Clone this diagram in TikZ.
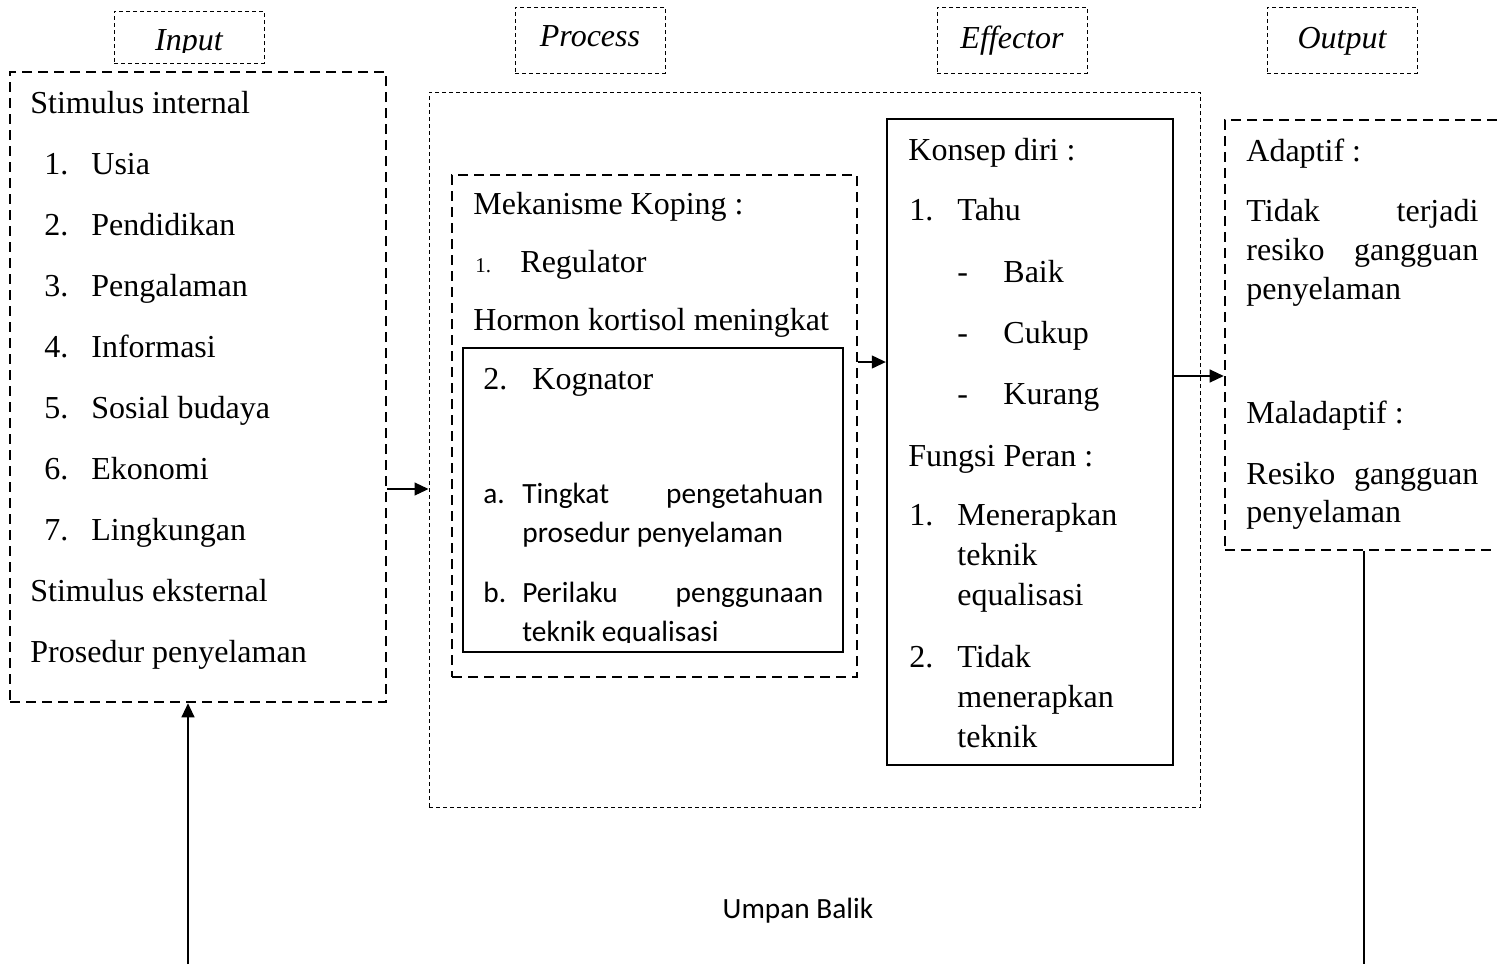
\documentclass[tikz,border=0pt]{standalone}
\usepackage{fontspec}
\setmainfont{Liberation Serif}
\newfontfamily\calfont{Carlito}
\usetikzlibrary{arrows.meta,fit}
\begin{document}
\begin{tikzpicture}[x=0.5pt,y=-0.5pt,
 txt/.style={anchor=base west,inner sep=0pt,font=\fontsize{16}{19}\selectfont},
 smalltxt/.style={anchor=base west,inner sep=0pt,font=\fontsize{10.5}{12}\selectfont},
 ctxt/.style={anchor=base west,inner sep=0pt,font=\calfont\fontsize{14.67}{18}\selectfont},
 thickdash/.style={draw,line width=1.3pt,dash pattern=on 5pt off 3pt,inner sep=0pt},
 thindash/.style={draw,line width=0.5pt,dash pattern=on 2pt off 1.5pt,inner sep=0pt},
 solidbox/.style={draw,line width=0.6pt,inner sep=0pt},
 heavybox/.style={draw,line width=1.2pt,inner sep=0pt},
 arr/.style={line width=0.6pt,-{Triangle[length=7pt,width=6.5pt]}},
 lab/.style={anchor=base,inner sep=0pt,font=\itshape\fontsize{16}{19}\selectfont}]
\useasboundingbox (0,0) rectangle (1497,964);

% ---- top labels
\node[thindash,fit={(114,11) (264,63)}] (linput) {};
\begin{scope}
\clip (114,11) rectangle (264,52);
\node[lab] (tinput) at (189,50) {Input};
\end{scope}
\node[thindash,fit={(515,7) (665,73)}] (lprocess) {};
\node[lab] (tprocess) at (590,46) {Process};
\node[thindash,fit={(937,7) (1087,73)}] (leffector) {};
\node[lab] (teffector) at (1012,48) {Effector};
\node[thindash,fit={(1267,7) (1417,73)}] (loutput) {};
\node[lab] (toutput) at (1342,48) {Output};

% ---- input box
\node[thickdash,fit={(10,72) (386,702)}] (inbox) {};
\node[txt] (i0) at (30,113) {Stimulus internal};
\node[txt] (n1) at (44,174) {1.};  \node[txt] (i1) at (91,174) {Usia};
\node[txt] (n2) at (44,235) {2.};  \node[txt] (i2) at (91,235) {Pendidikan};
\node[txt] (n3) at (44,296) {3.};  \node[txt] (i3) at (91,296) {Pengalaman};
\node[txt] (n4) at (44,357) {4.};  \node[txt] (i4) at (91,357) {Informasi};
\node[txt] (n5) at (44,418) {5.};  \node[txt] (i5) at (91,418) {Sosial budaya};
\node[txt] (n6) at (44,479) {6.};  \node[txt] (i6) at (91,479) {Ekonomi};
\node[txt] (n7) at (44,540) {7.};  \node[txt] (i7) at (91,540) {Lingkungan};
\node[txt] (i8) at (30,601) {Stimulus eksternal};
\node[txt] (i9) at (30,662) {Prosedur penyelaman};

% ---- process
\node[thindash,fit={(429,92) (1200,807)}] (procbox) {};
\node[thickdash,fit={(452,175) (857,677)}] (mekbox) {};
\node[txt] (m0) at (473,214) {Mekanisme Koping :};
\node[smalltxt] (m1n) at (475,272) {1.};
\node[txt] (m1) at (520,272) {Regulator};
\node[txt] (m2) at (473,330) {Hormon kortisol meningkat};
\node[solidbox,fit={(463,348) (843,652)}] (kogbox) {};
\node[txt] (k0n) at (483,389) {2.};
\node[txt] (k0) at (532,389) {Kognator};
\node[ctxt] (kan) at (483,503) {a.};
\node[ctxt] (ka1) at (522,503) {\makebox[150.5pt][l]{Tingkat\hfill pengetahuan}};
\node[ctxt] (ka2) at (522,542) {prosedur penyelaman};
\node[ctxt] (kbn) at (483,602) {b.};
\node[ctxt] (kb1) at (522,602) {\makebox[150.5pt][l]{Perilaku\hfill penggunaan}};
\begin{scope}
\clip (463,600) rectangle (843,642);
\node[ctxt] (kb2) at (522,641) {teknik equalisasi};
\end{scope}

% ---- effector
\node[heavybox,fit={(887,119) (1173,765)}] (effbox) {};
\node[txt] (e0) at (908,160) {Konsep diri :};
\node[txt] (e1n) at (909,220) {1.}; \node[txt] (e1) at (957,220) {Tahu};
\node[txt] (e2n) at (957,282) {-}; \node[txt] (e2) at (1003,282) {Baik};
\node[txt] (e3n) at (957,343) {-}; \node[txt] (e3) at (1003,343) {Cukup};
\node[txt] (e4n) at (957,404) {-}; \node[txt] (e4) at (1003,404) {Kurang};
\node[txt] (e5) at (908,466) {Fungsi Peran :};
\node[txt] (e6n) at (909,525) {1.}; \node[txt] (e6) at (957,525) {Menerapkan};
\node[txt] (e7) at (957,565) {teknik};
\node[txt] (e8) at (957,605) {equalisasi};
\node[txt] (e9n) at (909,667) {2.}; \node[txt] (e9) at (957,667) {Tidak};
\node[txt] (e10) at (957,707) {menerapkan};
\node[txt] (e11) at (957,747) {teknik};

% ---- output
\node[thickdash,fit={(1225,120) (1530,550)}] (outbox) {};
\node[txt] (o0) at (1246,161) {Adaptif :};
\node[txt] (o1) at (1246,221) {\makebox[116pt][l]{Tidak\hfill terjadi}};
\node[txt] (o2) at (1246,260) {\makebox[116pt][l]{resiko\hfill gangguan}};
\node[txt] (o3) at (1246,299) {penyelaman};
\node[txt] (o4) at (1246,423) {Maladaptif :};
\node[txt] (o5) at (1246,484) {\makebox[116pt][l]{Resiko\hfill gangguan}};
\node[txt] (o6) at (1246,522) {penyelaman};

% ---- feedback label
\node[anchor=base,inner sep=0pt,font=\calfont\fontsize{14.67}{18}\selectfont] (umpan) at (798,918) {Umpan Balik};

% ---- connectors
\coordinate (y1) at (0,489);
\coordinate (y2) at (0,362);
\coordinate (y3) at (0,376);
\coordinate (fbL) at (188,964);
\coordinate (fbR) at (1364,964);
\draw[arr] (inbox.east |- y1) -- (procbox.west |- y1);
\draw[arr] (mekbox.east |- y2) -- (effbox.west |- y2);
\draw[arr] (effbox.east |- y3) -- (outbox.west |- y3);
\draw[line width=0.9pt] (outbox.south -| fbR) -- (fbR);
\draw[arr] (fbL) -- (inbox.south -| fbL);
\end{tikzpicture}
\end{document}
